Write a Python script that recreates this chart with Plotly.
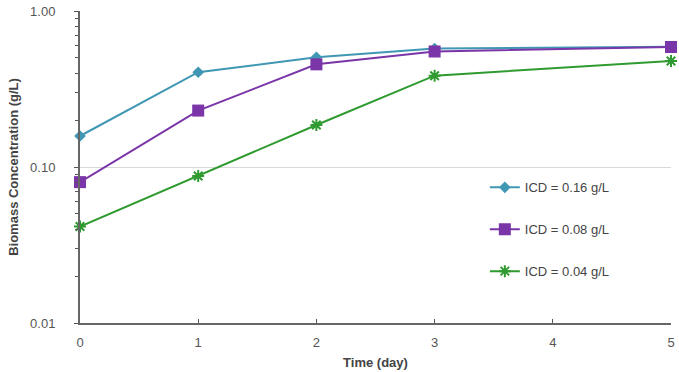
import plotly.graph_objects as go

days = [0, 1, 2, 3, 5]
icd_016 = [0.158, 0.405, 0.505, 0.575, 0.59]
icd_008 = [0.080, 0.23, 0.455, 0.55, 0.588]
icd_004 = [0.0415, 0.0875, 0.186, 0.385, 0.478]
names = ["ICD = 0.16 g/L", "ICD = 0.08 g/L", "ICD = 0.04 g/L"]
colors = ["#3f97b3", "#7a35a8", "#2f9a2f"]
symbols = ["diamond", "square", "asterisk-open"]
sizes = [9, 12, 10]

fig = go.Figure()
for i, (ys, nm, c, s, sz) in enumerate(zip([icd_016, icd_008, icd_004], names, colors, symbols, sizes)):
    fig.add_trace(go.Scatter(
        x=days, y=ys, name=nm, mode="lines+markers", legendgroup=f"g{i}",
        line=dict(color=c, width=2),
        marker=dict(symbol=s, size=sz, color=c, line=dict(color=c, width=2 if "asterisk" in s else 0)),
        cliponaxis=False,
    ))

font = "Liberation Sans, Arial, sans-serif"
fig.update_layout(
    width=679, height=372,
    margin=dict(l=80, r=4, t=11, b=49),
    paper_bgcolor="white", plot_bgcolor="white",
    font=dict(family=font, size=13, color="#555555"),
    showlegend=True,
    legend=dict(x=0.685, y=0.30, xanchor="left", yanchor="middle",
                bgcolor="rgba(0,0,0,0)", font=dict(size=13, color="#444444"),
                traceorder="grouped", tracegroupgap=22, itemwidth=30),
    xaxis=dict(range=[0, 5], tickvals=[0, 1, 2, 3, 4, 5], ticks="inside", ticklen=4,
               tickcolor="#555555", showline=True, linecolor="#666666", linewidth=2,
               showgrid=False, zeroline=False, ticklabelstandoff=6,
               title=dict(text="<b>Time (day)</b>", font=dict(size=13, color="#444444"), standoff=9),
               tickfont=dict(size=13, color="#555555")),
    yaxis=dict(type="log", range=[-2, 0], tickvals=[0.01, 0.1, 1],
               ticktext=["0.01", "0.10", "1.00"], ticks="outside", ticklen=4,
               tickcolor="#555555", showline=True, linecolor="#666666", linewidth=2,
               showgrid=True, gridcolor="#d9d9d9", gridwidth=1, zeroline=False,
               ticklabelstandoff=16,
               minor=dict(tickvals=[0.02, 0.03, 0.04, 0.05, 0.06, 0.07, 0.08, 0.09,
                                    0.2, 0.3, 0.4, 0.5, 0.6, 0.7, 0.8, 0.9],
                          ticks="outside", ticklen=3, tickcolor="#555555", showgrid=False),
               title=dict(text="<b>Biomass Concentration (g/L)</b>", font=dict(size=13, color="#444444"), standoff=9),
               tickfont=dict(size=13, color="#555555")),
)
fig.write_html("out.html")
